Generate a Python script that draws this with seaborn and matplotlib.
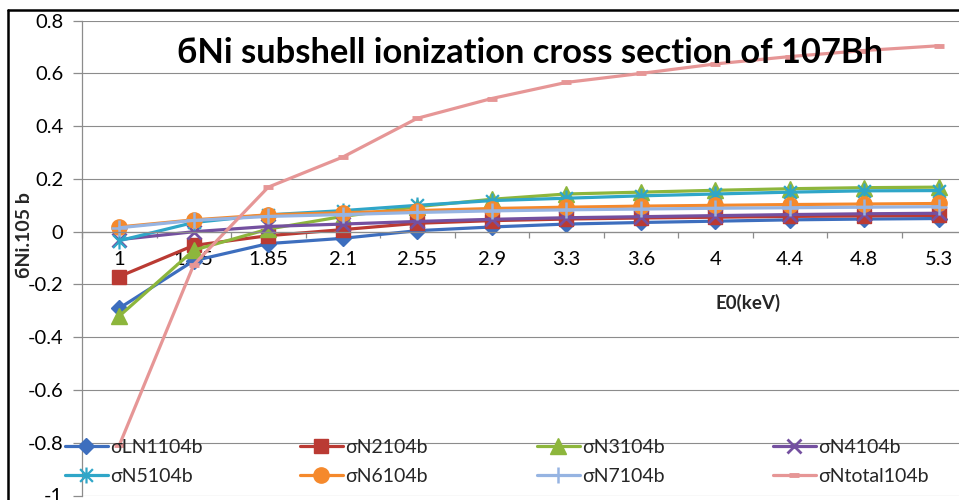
import numpy as np
import pandas as pd
import matplotlib
matplotlib.use("Agg")
import matplotlib.pyplot as plt
from matplotlib.path import Path
from matplotlib.lines import Line2D
import seaborn as sns

# Incident electron energy categories (keV)
energies = ["1", "1.45", "1.85", "2.1", "2.55", "2.9", "3.3", "3.6", "4", "4.4", "4.8", "5.3"]

# Subshell ionization cross sections
sigma_LN1 = [-0.29, -0.11, -0.045, -0.025, 0.004, 0.018, 0.029, 0.035, 0.040, 0.045, 0.048, 0.050]
sigma_N2 = [-0.17, -0.052, -0.015, 0.008, 0.032, 0.042, 0.048, 0.052, 0.055, 0.058, 0.060, 0.062]
sigma_N3 = [-0.32, -0.07, 0.010, 0.058, 0.095, 0.123, 0.143, 0.150, 0.157, 0.163, 0.167, 0.169]
sigma_N4 = [-0.030, 0.000, 0.020, 0.029, 0.039, 0.047, 0.053, 0.057, 0.061, 0.065, 0.068, 0.070]
sigma_N5 = [-0.034, 0.035, 0.064, 0.080, 0.100, 0.118, 0.127, 0.136, 0.143, 0.150, 0.155, 0.156]
sigma_N6 = [0.018, 0.045, 0.064, 0.072, 0.080, 0.088, 0.093, 0.097, 0.100, 0.103, 0.105, 0.107]
sigma_N7 = [0.015, 0.043, 0.058, 0.065, 0.073, 0.079, 0.083, 0.086, 0.089, 0.091, 0.093, 0.095]
sigma_Ntotal = [-0.81, -0.125, 0.169, 0.283, 0.430, 0.505, 0.566, 0.600, 0.636, 0.664, 0.687, 0.705]

series_names = ["σLN1104b", "σN2104b", "σN3104b", "σN4104b",
                "σN5104b", "σN6104b", "σN7104b", "σNtotal104b"]
series_values = [sigma_LN1, sigma_N2, sigma_N3, sigma_N4,
                 sigma_N5, sigma_N6, sigma_N7, sigma_Ntotal]

y_ticks = [-1.0, -0.8, -0.6, -0.4, -0.2, 0.0, 0.2, 0.4, 0.6, 0.8]
y_tick_labels = ["-1", "-0.8", "-0.6", "-0.4", "-0.2", "0", "0.2", "0.4", "0.6", "0.8"]

title_text = "бNi subshell ionization cross section of 107Bh"
y_title = "бNi.105 b"
x_title = "E0(keV)"

# Long-form table for seaborn
records = []
for name, vals in zip(series_names, series_values):
    for i, (e, v) in enumerate(zip(energies, vals)):
        records.append({"series": name, "pos": i, "energy": e, "value": v})
df = pd.DataFrame(records)

# Asterisk marker: an "x" with a vertical bar through it
asterisk = Path(
    [(-1, -1), (1, 1), (-1, 1), (1, -1), (0, -1.25), (0, 1.25)],
    [Path.MOVETO, Path.LINETO, Path.MOVETO, Path.LINETO, Path.MOVETO, Path.LINETO],
)

styles = {
    "σLN1104b": dict(color="#3D6EBE", marker="D", ms=8.5, mew=1),
    "σN2104b": dict(color="#BA3A33", marker="s", ms=10.5, mew=1),
    "σN3104b": dict(color="#8DB63C", marker="^", ms=11, mew=1),
    "σN4104b": dict(color="#7450A0", marker="x", ms=9.5, mew=2),
    "σN5104b": dict(color="#2FA6C8", marker=asterisk, ms=11.5, mew=1.6),
    "σN6104b": dict(color="#F5892C", marker="o", ms=11, mew=1),
    "σN7104b": dict(color="#96B4E2", marker="+", ms=11.5, mew=1.8),
    "σNtotal104b": dict(color="#E69696", marker="_", ms=7, mew=3.5),
}

sns.set_theme(style="white")
plt.rcParams["font.family"] = ["Lato", "Noto Sans", "DejaVu Sans"]
plt.rcParams["axes.unicode_minus"] = False

W, H = 959, 500
fig = plt.figure(figsize=(W / 100, H / 100), dpi=100)
fig.patch.set_facecolor("white")

# Plot area in pixel terms
left_px, right_px = 82, 976
top_px, bottom_px = 20.7, 495.5
ax = fig.add_axes([left_px / W, 1 - bottom_px / H,
                   (right_px - left_px) / W, (bottom_px - top_px) / H])
ax.set_facecolor("none")

grid_color = "#8C8C8C"
for name in series_names:
    st = styles[name]
    sns.lineplot(
        data=df[df["series"] == name], x="pos", y="value", ax=ax,
        color=st["color"], linewidth=2.3, marker=st["marker"],
        markersize=st["ms"], markeredgewidth=st["mew"],
        markeredgecolor=st["color"], markerfacecolor=st["color"],
        errorbar=None, legend=False,
    )
handles = list(ax.lines[: len(series_names)])

ax.set_xlim(-0.5, len(energies) - 0.5)
ax.set_ylim(-1.0, 0.8)

# Horizontal gridlines
ax.set_yticks(y_ticks)
ax.set_yticklabels(y_tick_labels)
ax.yaxis.grid(True, color=grid_color, linewidth=0.8)
ax.xaxis.grid(False)
ax.set_axisbelow(True)

# Category axis crossing at zero, ticks between categories
ax.set_xticks(range(len(energies)))
ax.set_xticklabels(energies)
ax.set_xticks(np.arange(-0.5, len(energies), 1.0), minor=True)
ax.spines["bottom"].set_position(("data", 0))
for s in ["top", "right"]:
    ax.spines[s].set_visible(False)
for s in ["bottom", "left"]:
    ax.spines[s].set_color(grid_color)
    ax.spines[s].set_linewidth(0.9)
ax.tick_params(axis="x", which="major", length=0, pad=14, labelsize=14.5,
               labelcolor="black")
ax.tick_params(axis="x", which="minor", length=4.5, width=0.9,
               color=grid_color, direction="out", bottom=True)
ax.tick_params(axis="y", which="major", length=6.5, width=0.9,
               color=grid_color, direction="out", pad=7, labelsize=14.5,
               labelcolor="black", left=True)

# Axis titles
ax.set_xlabel(x_title, fontsize=13.5, fontweight="bold", va="center")
ax.xaxis.set_label_coords((748 - left_px) / (right_px - left_px),
                          (bottom_px - 303) / (bottom_px - top_px))
ax.set_ylabel(y_title, fontsize=14, fontweight="bold", va="center")
ax.yaxis.set_label_coords((25 - left_px) / (right_px - left_px),
                          (bottom_px - 235.5) / (bottom_px - top_px))

# Chart title
fig.text(177 / W, 1 - 63 / H, title_text, fontsize=24.8, fontweight="bold",
         ha="left", va="baseline", color="black")

# Legend: four columns of two entries, transparent
col_x = [65, 300, 537, 773]
for c in range(4):
    hs = [handles[c], handles[c + 4]]
    lb = [series_names[c], series_names[c + 4]]
    leg = ax.legend(
        hs, lb, loc="center left",
        bbox_to_anchor=(col_x[c] / W, 1 - 461.7 / H),
        bbox_transform=fig.transFigure, frameon=False, borderpad=0,
        borderaxespad=0, handlelength=2.2, handletextpad=0.12,
        labelspacing=0.6, fontsize=14, numpoints=1,
    )
    if c < 3:
        ax.add_artist(leg)

# Outer chart border (left and top edges)
fig.add_artist(Line2D([8 / W, 8 / W], [0, 1 - 10 / H], transform=fig.transFigure,
                      color="black", linewidth=1.8))
fig.add_artist(Line2D([8 / W, 1], [1 - 10 / H, 1 - 10 / H], transform=fig.transFigure,
                      color="black", linewidth=1.8))

fig.savefig("out.png", dpi=100, facecolor="white")
